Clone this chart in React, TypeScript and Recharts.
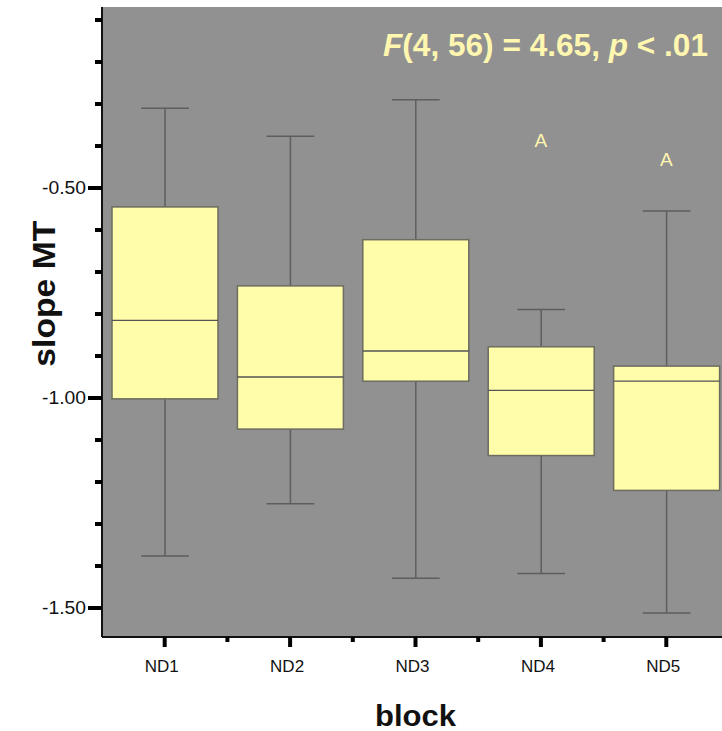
import React from 'react';
import { ComposedChart, Bar, XAxis, YAxis, Scatter, CartesianGrid, Customized } from 'recharts';

const categories = ['ND1', 'ND2', 'ND3', 'ND4', 'ND5'];
const whiskerLow = [-1.376, -1.252, -1.429, -1.418, -1.512];
const quartile1 = [-1.002, -1.074, -0.96, -1.137, -1.22];
const medians = [-0.815, -0.95, -0.888, -0.982, -0.96];
const quartile3 = [-0.545, -0.733, -0.623, -0.878, -0.924];
const whiskerHigh = [-0.31, -0.377, -0.29, -0.789, -0.555];
const outlierValues: (number | null)[] = [null, null, null, -0.388, -0.433];
const outlierLabels = ['', '', '', 'A', 'A'];

const yTicks = [-1.5, -1.4, -1.3, -1.2, -1.1, -1.0, -0.9, -0.8, -0.7, -0.6, -0.5, -0.4, -0.3, -0.2, -0.1];
const yMajorTicks = [-1.5, -1.0, -0.5];
const yDomain = [-1.569, -0.069];

const statText = { f: 'F', args: '(4, 56) = 4.65, ', p: 'p', rest: ' < .01' };

const data = categories.map((name, i) => ({
  name,
  lo: whiskerLow[i],
  q1: quartile1[i],
  med: medians[i],
  q3: quartile3[i],
  hi: whiskerHigh[i],
  outlier: outlierValues[i],
  outlierLabel: outlierLabels[i],
}));

const FONT = '"Liberation Sans", Arial, Helvetica, sans-serif';
const BOX_FILL = '#FFFCAA';
const TEXT_YELLOW = '#FFF6B0';
const WHISKER = '#5e5e5e';

const BoxShape = (props: any) => {
  const { x, y, width, height, payload } = props;
  const top = Math.min(y, y + height);
  const h = Math.abs(height);
  const k = h / (payload.q3 - payload.q1);
  const py = (v: number) => top + (payload.q3 - v) * k;
  const cx = x + width / 2;
  const capHalf = width * 0.225;
  return (
    <g>
      <line x1={cx} x2={cx} y1={py(payload.hi)} y2={top} stroke={WHISKER} strokeWidth={1.5} />
      <line x1={cx} x2={cx} y1={top + h} y2={py(payload.lo)} stroke={WHISKER} strokeWidth={1.5} />
      <line x1={cx - capHalf} x2={cx + capHalf} y1={py(payload.hi)} y2={py(payload.hi)} stroke={WHISKER} strokeWidth={1.5} />
      <line x1={cx - capHalf} x2={cx + capHalf} y1={py(payload.lo)} y2={py(payload.lo)} stroke={WHISKER} strokeWidth={1.5} />
      <rect x={x} y={top} width={width} height={h} fill={BOX_FILL} stroke="#6c6c60" strokeWidth={1.5} />
      <line x1={x} x2={x + width} y1={py(payload.med)} y2={py(payload.med)} stroke="#555555" strokeWidth={1.3} />
    </g>
  );
};

const OutlierShape = (props: any) => {
  const { cx, cy, payload } = props;
  if (payload == null || payload.outlier == null || !isFinite(cy)) return <g />;
  return (
    <text x={cx} y={cy} textAnchor="middle" dominantBaseline="central" fontFamily={FONT} fontSize={19} fill={TEXT_YELLOW}>
      {payload.outlierLabel}
    </text>
  );
};

const YTick = (props: any) => {
  const { x, y, payload } = props;
  const major = yMajorTicks.some((t) => Math.abs(t - payload.value) < 1e-6);
  return (
    <g>
      <line x1={x - (major ? 14 : 7)} x2={x} y1={y} y2={y} stroke="#000" strokeWidth={4} />
      {major && (
        <text x={x - 16} y={y} textAnchor="end" dominantBaseline="central" fontFamily={FONT} fontSize={18} textLength={44} lengthAdjust="spacingAndGlyphs" fill="#111">
          {payload.value.toFixed(2)}
        </text>
      )}
    </g>
  );
};

const XTick = (props: any) => {
  const { x, y, payload, index } = props;
  const off = payload.offset ?? 62.7;
  return (
    <g>
      <line x1={x} x2={x} y1={y} y2={y + 10} stroke="#000" strokeWidth={4} />
      {index > 0 && <line x1={x - off} x2={x - off} y1={y} y2={y + 5} stroke="#000" strokeWidth={4} />}
      <text x={x - 3} y={y + 29} textAnchor="middle" dominantBaseline="central" fontFamily={FONT} fontSize={17} fill="#111">
        {payload.value}
      </text>
    </g>
  );
};

const YTitle = (props: any) => {
  const vb = props.viewBox || { x: 0, y: 7, width: 102, height: 630 };
  const cx = 45;
  const cy = vb.y + vb.height * 0.455;
  return (
    <text x={cx} y={cy} transform={`rotate(-90, ${cx}, ${cy})`} textAnchor="middle" dominantBaseline="central" fontFamily={FONT} fontWeight="bold" fontSize={31} textLength={146} lengthAdjust="spacingAndGlyphs" fill="#111">
      slope MT
    </text>
  );
};

const XTitle = (props: any) => {
  const vb = props.viewBox || { x: 102, y: 637, width: 627, height: 94 };
  const cx = vb.x + vb.width / 2;
  return (
    <text x={cx} y={vb.y + vb.height - 5} textAnchor="middle" fontFamily={FONT} fontWeight="bold" fontSize={30} textLength={81} lengthAdjust="spacingAndGlyphs" fill="#111">
      block
    </text>
  );
};

const StatText = () => (
  <text x={708} y={56} textAnchor="end" fontFamily={FONT} fontWeight="bold" fontSize={31} textLength={325} lengthAdjust="spacingAndGlyphs" fill={TEXT_YELLOW}>
    <tspan fontStyle="italic">{statText.f}</tspan>
    <tspan>{statText.args}</tspan>
    <tspan fontStyle="italic">{statText.p}</tspan>
    <tspan>{statText.rest}</tspan>
  </text>
);

export default function App() {
  return (
    <div style={{ position: 'fixed', left: 0, top: 0, width: 722, height: 731, overflow: 'hidden', background: '#fff' }}>
      <ComposedChart width={740} height={731} data={data} margin={{ top: 7, right: 11, left: 0, bottom: 0 }}>
        <CartesianGrid horizontal={false} vertical={false} fill="#919191" />
        <XAxis
          dataKey="name"
          type="category"
          height={94}
          tickSize={0}
          tickMargin={0}
          tick={<XTick />}
          axisLine={{ stroke: '#111', strokeWidth: 2 }}
          tickLine={false}
          interval={0}
          label={{ content: <XTitle /> }}
        />
        <XAxis xAxisId="top" dataKey="name" orientation="top" height={0} tick={false} tickLine={false} axisLine={{ stroke: '#3a3a3a', strokeWidth: 2 }} />
        <YAxis
          type="number"
          domain={yDomain}
          allowDataOverflow
          ticks={yTicks}
          interval={0}
          width={102}
          tickSize={0}
          tickMargin={0}
          tick={<YTick />}
          tickLine={false}
          axisLine={{ stroke: '#111', strokeWidth: 2 }}
          label={{ content: <YTitle /> }}
        />
        <Bar dataKey={(d: any) => [d.q1, d.q3]} barSize={106} shape={<BoxShape />} isAnimationActive={false} />
        <Scatter dataKey="outlier" shape={<OutlierShape />} isAnimationActive={false} />
        <Customized component={<StatText />} />
      </ComposedChart>
    </div>
  );
}
